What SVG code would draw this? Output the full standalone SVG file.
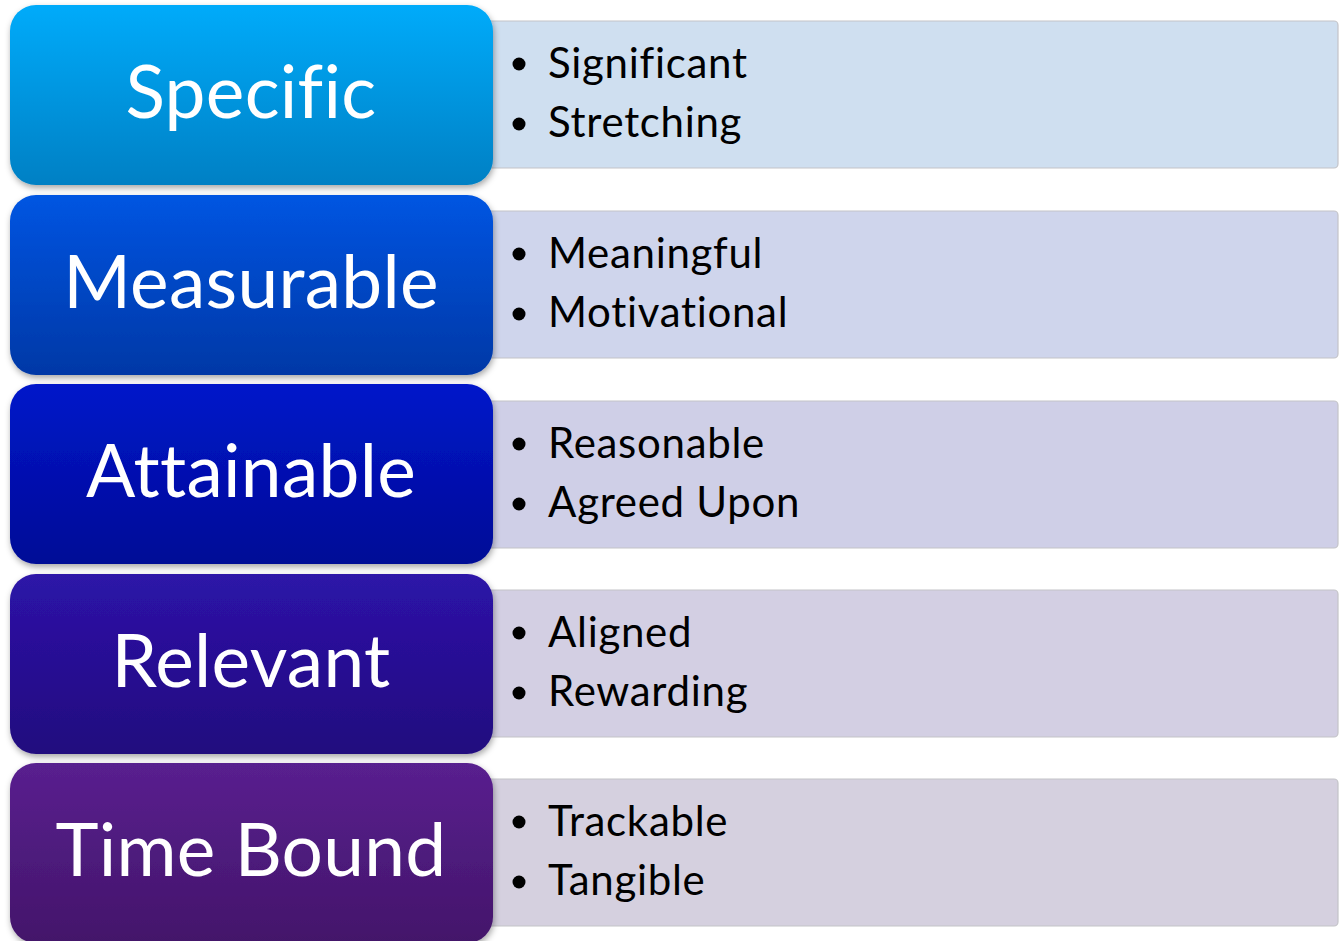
<svg xmlns="http://www.w3.org/2000/svg" width="1340" height="941" viewBox="0 0 1340 941">
  <defs>
    <linearGradient id="gS" x1="0" y1="0" x2="0" y2="1"><stop offset="0" stop-color="#00abfa"/><stop offset="1" stop-color="#0080c4"/></linearGradient>
    <linearGradient id="gM" x1="0" y1="0" x2="0" y2="1"><stop offset="0" stop-color="#0055e2"/><stop offset="1" stop-color="#0038a6"/></linearGradient>
    <linearGradient id="gA" x1="0" y1="0" x2="0" y2="1"><stop offset="0" stop-color="#0016ca"/><stop offset="1" stop-color="#000b96"/></linearGradient>
    <linearGradient id="gR" x1="0" y1="0" x2="0" y2="1"><stop offset="0" stop-color="#2d13a8"/><stop offset="1" stop-color="#220b7e"/></linearGradient>
    <linearGradient id="gT" x1="0" y1="0" x2="0" y2="1"><stop offset="0" stop-color="#59208f"/><stop offset="1" stop-color="#43156a"/></linearGradient>
    <filter id="shadow" x="-5%" y="-5%" width="112%" height="115%">
      <feDropShadow dx="1" dy="3" stdDeviation="3" flood-color="#000" flood-opacity="0.35"/>
    </filter>
  </defs>
  <style>
    .key { filter: url(#shadow); }
    .panel { stroke: #c4c4c8; stroke-width: 1.2; }
    .title { font-family: "Lato", "Open Sans", "Liberation Sans", sans-serif; font-size: 73px; letter-spacing: 0.3px; fill: #ffffff; text-anchor: middle; font-variant-ligatures: none; }
    .item { font-family: "Lato", "Open Sans", "Liberation Sans", sans-serif; font-size: 42px; letter-spacing: 0.7px; fill: #000000; font-variant-ligatures: none; }
    .dot { fill: #000000; }
  </style>
  <rect width="1340" height="941" fill="#ffffff"/>

  <!-- Specific -->
  <g id="specific">
    <rect class="panel" x="470" y="21" width="868" height="147" rx="4" fill="#cfdff0"/>
    <circle class="dot" cx="519" cy="64" r="6.5"/>
    <circle class="dot" cx="519" cy="124" r="6.5"/>
    <text class="item" x="548" y="78">Significant</text>
    <text class="item" x="548" y="137">Stretching</text>
    <rect class="key" x="10" y="5" width="483" height="180" rx="26" fill="url(#gS)"/>
    <text class="title" x="251" y="118">Specific</text>
  </g>

  <!-- Measurable -->
  <g id="measurable">
    <rect class="panel" x="470" y="211" width="868" height="147" rx="4" fill="#cfd5ec"/>
    <circle class="dot" cx="519" cy="254" r="6.5"/>
    <circle class="dot" cx="519" cy="314" r="6.5"/>
    <text class="item" x="548" y="268">Meaningful</text>
    <text class="item" x="548" y="327">Motivational</text>
    <rect class="key" x="10" y="195" width="483" height="180" rx="26" fill="url(#gM)"/>
    <text class="title" x="251" y="308">Measurable</text>
  </g>

  <!-- Attainable -->
  <g id="attainable">
    <rect class="panel" x="470" y="401" width="868" height="147" rx="4" fill="#cfcfe7"/>
    <circle class="dot" cx="519" cy="444" r="6.5"/>
    <circle class="dot" cx="519" cy="504" r="6.5"/>
    <text class="item" x="548" y="458">Reasonable</text>
    <text class="item" x="548" y="517">Agreed Upon</text>
    <rect class="key" x="10" y="384" width="483" height="180" rx="26" fill="url(#gA)"/>
    <text class="title" x="251" y="497">Attainable</text>
  </g>

  <!-- Relevant -->
  <g id="relevant">
    <rect class="panel" x="470" y="590" width="868" height="147" rx="4" fill="#d3cfe3"/>
    <circle class="dot" cx="519" cy="633" r="6.5"/>
    <circle class="dot" cx="519" cy="693" r="6.5"/>
    <text class="item" x="548" y="647">Aligned</text>
    <text class="item" x="548" y="706">Rewarding</text>
    <rect class="key" x="10" y="574" width="483" height="180" rx="26" fill="url(#gR)"/>
    <text class="title" x="251" y="687">Relevant</text>
  </g>

  <!-- Time Bound -->
  <g id="time-bound">
    <rect class="panel" x="470" y="779" width="868" height="147" rx="4" fill="#d5d0df"/>
    <circle class="dot" cx="519" cy="822" r="6.5"/>
    <circle class="dot" cx="519" cy="882" r="6.5"/>
    <text class="item" x="548" y="836">Trackable</text>
    <text class="item" x="548" y="895">Tangible</text>
    <rect class="key" x="10" y="763" width="483" height="180" rx="26" fill="url(#gT)"/>
    <text class="title" x="251" y="876">Time Bound</text>
  </g>

  <!-- no connectors in this layout -->
  <g id="connectors"/>
</svg>
